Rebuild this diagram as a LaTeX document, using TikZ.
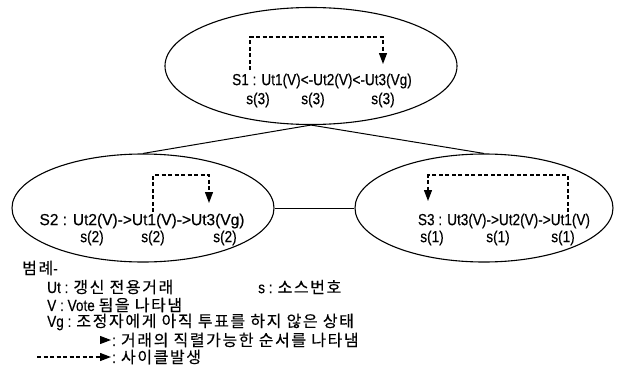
\documentclass[tikz,border=0pt]{standalone}
\usepackage{fontspec}
\setmainfont[FakeStretch=0.85,FakeBold=0.3]{Liberation Sans}
\newfontfamily\widefont[FakeStretch=0.97,FakeBold=0.3]{Liberation Sans}
\newfontfamily\kr[LetterSpace=10,FakeBold=0.3]{Noto Sans CJK KR}
\usetikzlibrary{arrows.meta,shapes.geometric}
\begin{document}
\begin{tikzpicture}[x=1pt,y=-1pt,
  stateell/.style={draw,line width=1.1pt,ellipse,inner sep=0pt},
  txt/.style={inner sep=0pt,font=\fontsize{16}{18}\selectfont},
  lg/.style={inner sep=0pt,anchor=west,font=\fontsize{16}{18}\selectfont},
  cyc/.style={line width=1.3pt,dash pattern=on 4pt off 2.5pt,-{Triangle[length=11pt,width=8pt]}},
  link/.style={line width=1pt}]
\useasboundingbox (0,0) rectangle (619,380);
% ellipses
\node[stateell,minimum width=292pt,minimum height=117pt] (s1) at (311,66) {};
\node[stateell,minimum width=262pt,minimum height=108pt] (s2) at (143,208) {};
\node[stateell,minimum width=258pt,minimum height=108pt] (s3) at (484,208) {};
% links
\draw[link] (s1.south) -- (s2.north);
\draw[link] (s1.south) -- (s3.north);
\draw[link] (s2.east) -- (s3.west);
% S1 texts
\node[txt] (t1) at (322,81) {S1 : Ut1(V)<-Ut2(V)<-Ut3(Vg)};
\node[txt] (a1) at (258,100) {s(3)};
\node[txt] (b1) at (313,100) {s(3)};
\node[txt] (c1) at (383,100) {s(3)};
\coordinate (p1s) at (250,70);
\coordinate (p1e) at (383,64);
\draw[cyc] (p1s) |- (300,37) -| (p1e);
% S2 texts
\node[txt,font=\widefont\fontsize{16}{18}\selectfont] (t2) at (142,221) {S2 : Ut2(V)->Ut1(V)->Ut3(Vg)};
\node[txt] (a2) at (92,238) {s(2)};
\node[txt] (b2) at (153,238) {s(2)};
\node[txt] (c2) at (225,238) {s(2)};
\coordinate (p2s) at (153,212);
\coordinate (p2e) at (209,203);
\draw[cyc] (p2s) |- (180,175) -| (p2e);
% S3 texts
\node[txt] (t3) at (504,221) {S3 : Ut3(V)->Ut2(V)->Ut1(V)};
\node[txt] (a3) at (432,238) {s(1)};
\node[txt] (b3) at (498,238) {s(1)};
\node[txt] (c3) at (563,238) {s(1)};
\coordinate (p3s) at (568,212);
\coordinate (p3e) at (428,201);
\draw[cyc] (p3s) |- (500,175) -| (p3e);
% legend
\node[lg] (l0) at (22,268) {{\kr 범례}-};
\node[lg] (l1) at (47,287) {Ut : {\kr 갱신 전용거래}};
\node[lg] (l2) at (258,287) {s : {\kr 소스번호}};
\node[lg] (l3) at (47,305) {V : Vote {\kr 됨을 나타냄}};
\node[lg] (l4) at (47,322) {Vg : {\kr 조정자에게 아직 투표를 하지 않은 상태}};
\node[lg] (l5) at (112,340) {: {\kr 거래의 직렬가능한 순서를 나타냄}};
\node[lg] (l6) at (112,357) {: {\kr 사이클발생}};
\coordinate (k1) at (100,340);
\coordinate (k2) at (111,340);
\draw[line width=1pt,-{Triangle[length=11pt,width=8pt]}] (k1) -- (k2);
\coordinate (k3) at (37,357);
\draw[cyc] (k3) -- (k2 |- k3);
\end{tikzpicture}
\end{document}
